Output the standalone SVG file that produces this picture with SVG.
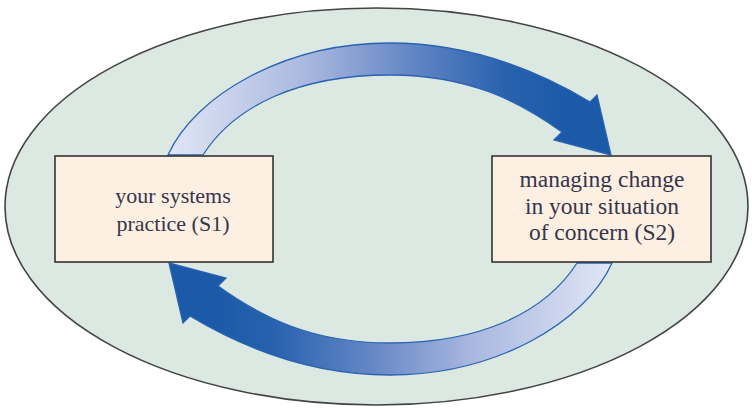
<svg xmlns="http://www.w3.org/2000/svg" width="752" height="408" viewBox="0 0 752 408">
  <defs>
    <linearGradient id="flow" gradientUnits="userSpaceOnUse" x1="168" y1="0" x2="565" y2="0">
      <stop offset="0" stop-color="#e0e6f6"/>
      <stop offset="0.35" stop-color="#aab8df"/>
      <stop offset="0.6" stop-color="#6688c6"/>
      <stop offset="0.85" stop-color="#2862ae"/>
      <stop offset="1" stop-color="#1b5aa9"/>
    </linearGradient>
    <path id="arc" d="M168,155 C195,95 285,43 390,43 C480,43 550,78 590,102 L597,95 L611,155 L554,140 L562,132 C520,102 470,75 390,75 C300,75 235,105 203,155 Z"/>
  </defs>
  <style>
    .bg { fill: #dce9e2; stroke: #444444; stroke-width: 1.6; }
    .box { fill: #fdf0e3; stroke: #333333; stroke-width: 1.6; }
    .arrow { fill: url(#flow); stroke: #2b63b2; stroke-width: 1.3; stroke-linejoin: miter; }
    .label { font-family: "Liberation Serif", "Times New Roman", serif; fill: #35354a; text-anchor: middle; }
  </style>

  <g id="context">
    <ellipse class="bg" cx="376.5" cy="206.5" rx="371.5" ry="198.5"/>
  </g>

  <g id="connectors">
    <use href="#arc" class="arrow"/>
    <use href="#arc" class="arrow" transform="rotate(180 390 209)"/>
  </g>

  <g id="node-s1">
    <rect class="box" x="55" y="156" width="218" height="106"/>
    <text class="label" font-size="22" x="173" y="203">your systems</text>
    <text class="label" font-size="22" x="173" y="231">practice (S1)</text>
  </g>

  <g id="node-s2">
    <rect class="box" x="492" y="156" width="219" height="106"/>
    <text class="label" font-size="23.5" x="602" y="187">managing change</text>
    <text class="label" font-size="23.5" x="602" y="213.5">in your situation</text>
    <text class="label" font-size="23.5" x="602" y="240">of concern (S2)</text>
  </g>
</svg>
